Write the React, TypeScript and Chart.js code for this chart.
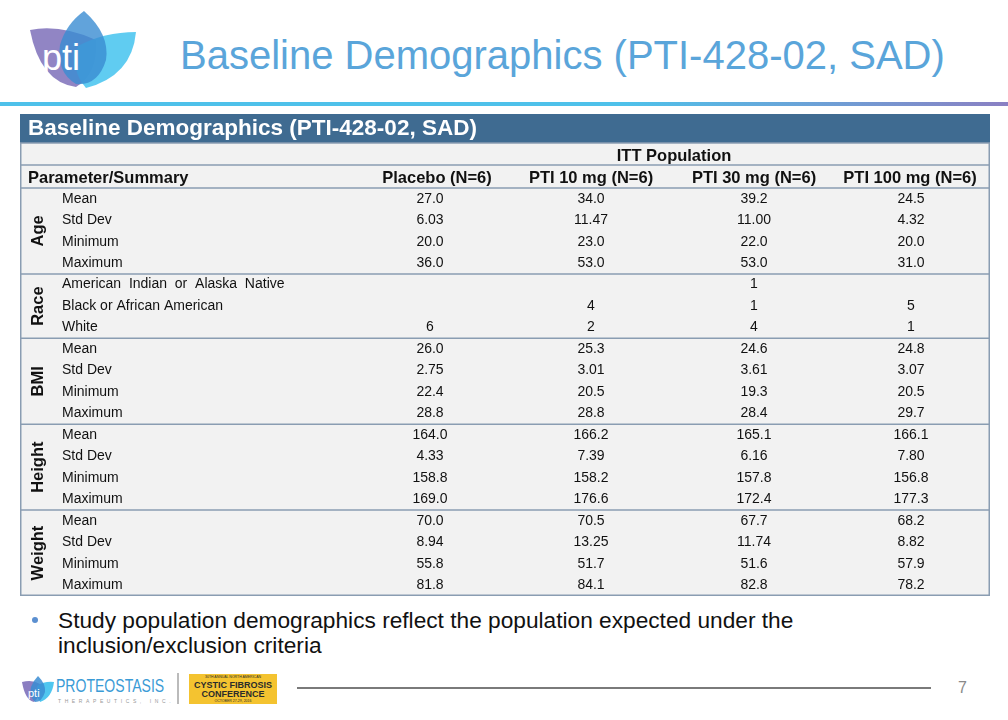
import React, { useEffect, useRef } from "react";
import { Chart, registerables } from "chart.js";

Chart.register(...registerables);

const tableTitle = "Baseline Demographics (PTI-428-02, SAD)";
const populationLabel = "ITT Population";
const paramHeader = "Parameter/Summary";
const columns = ["Placebo (N=6)", "PTI 10 mg (N=6)", "PTI 30 mg (N=6)", "PTI 100 mg (N=6)"];
const groups = ["Age", "Race", "BMI", "Height", "Weight"];
const statLabels = ["Mean", "Std Dev", "Minimum", "Maximum"];
const raceLabels = ["American  Indian  or  Alaska  Native", "Black or African American", "White"];

const ageValues = [
  ["27.0", "34.0", "39.2", "24.5"],
  ["6.03", "11.47", "11.00", "4.32"],
  ["20.0", "23.0", "22.0", "20.0"],
  ["36.0", "53.0", "53.0", "31.0"],
];
const raceValues = [
  ["", "", "1", ""],
  ["", "4", "1", "5"],
  ["6", "2", "4", "1"],
];
const bmiValues = [
  ["26.0", "25.3", "24.6", "24.8"],
  ["2.75", "3.01", "3.61", "3.07"],
  ["22.4", "20.5", "19.3", "20.5"],
  ["28.8", "28.8", "28.4", "29.7"],
];
const heightValues = [
  ["164.0", "166.2", "165.1", "166.1"],
  ["4.33", "7.39", "6.16", "7.80"],
  ["158.8", "158.2", "157.8", "156.8"],
  ["169.0", "176.6", "172.4", "177.3"],
];
const weightValues = [
  ["70.0", "70.5", "67.7", "68.2"],
  ["8.94", "13.25", "11.74", "8.82"],
  ["55.8", "51.7", "51.6", "57.9"],
  ["81.8", "84.1", "82.8", "78.2"],
];

const groupRows = [
  { name: groups[0], labels: statLabels, values: ageValues },
  { name: groups[1], labels: raceLabels, values: raceValues },
  { name: groups[2], labels: statLabels, values: bmiValues },
  { name: groups[3], labels: statLabels, values: heightValues },
  { name: groups[4], labels: statLabels, values: weightValues },
];

// layout (table units = px inside the canvas)
const TW = 970;
const TH = 482;
const HEAD_H = 29;
const ITT_B = 51;
const PARAM_B = 74;
const ROW_H = (TH - PARAM_B) / 19;
const headCenters = [417, 571, 734, 890];
const valueCenters = [410, 571, 734, 891];
const FONT = "'Liberation Sans', Arial, Helvetica, sans-serif";

const tablePlugin = {
  id: "tableDraw",
  afterDraw(chart: any) {
    const { ctx } = chart;
    const xs = chart.scales.x;
    const ys = chart.scales.y;
    const X = (v: number) => xs.getPixelForValue(v);
    const Y = (v: number) => ys.getPixelForValue(v);
    ctx.save();
    ctx.fillStyle = "#F2F2F2";
    ctx.fillRect(X(0), Y(0), X(TW) - X(0), Y(TH) - Y(0));
    ctx.fillStyle = "#3F6B91";
    ctx.fillRect(X(0), Y(0), X(TW) - X(0), Y(HEAD_H) - Y(0));

    ctx.strokeStyle = "#8A9DB2";
    ctx.lineWidth = 1.5;
    const hline = (v: number) => {
      ctx.beginPath();
      ctx.moveTo(X(0), Y(v));
      ctx.lineTo(X(TW), Y(v));
      ctx.stroke();
    };
    hline(ITT_B);
    hline(PARAM_B);
    let r = 0;
    groupRows.forEach((g, gi) => {
      r += g.labels.length;
      if (gi < groupRows.length - 1) hline(PARAM_B + r * ROW_H);
    });
    ctx.strokeRect(X(0) + 0.75, Y(HEAD_H), X(TW) - X(0) - 1.5, Y(TH) - Y(HEAD_H) - 0.75);

    ctx.textBaseline = "middle";
    ctx.fillStyle = "#FFFFFF";
    ctx.font = `bold 22.5px ${FONT}`;
    ctx.textAlign = "left";
    ctx.fillText(tableTitle, X(8), Y(15));

    ctx.fillStyle = "#111111";
    ctx.font = `bold 16.5px ${FONT}`;
    ctx.textAlign = "center";
    ctx.fillText(populationLabel, X(654), Y(42));
    ctx.textAlign = "left";
    ctx.fillText(paramHeader, X(8), Y(64.5));
    ctx.textAlign = "center";
    columns.forEach((c, i) => ctx.fillText(c, X(headCenters[i]), Y(64.5)));

    let row = 0;
    groupRows.forEach((g) => {
      const top = PARAM_B + row * ROW_H;
      const bottom = top + g.labels.length * ROW_H;
      ctx.save();
      ctx.translate(X(18), Y((top + bottom) / 2));
      ctx.rotate(-Math.PI / 2);
      ctx.font = `bold 16.5px ${FONT}`;
      ctx.textAlign = "center";
      ctx.fillStyle = "#111111";
      ctx.fillText(g.name, 0, 0);
      ctx.restore();
      g.labels.forEach((lab, li) => {
        const cy = Y(top + (li + 0.5) * ROW_H);
        ctx.font = `14px ${FONT}`;
        ctx.fillStyle = "#111111";
        ctx.textAlign = "left";
        ctx.fillText(lab, X(42), cy);
        ctx.textAlign = "center";
        g.values[li].forEach((v, ci) => {
          if (v) ctx.fillText(v, X(valueCenters[ci]), cy);
        });
      });
      row += g.labels.length;
    });
    ctx.restore();
  },
};

function TableChart() {
  const ref = useRef<HTMLCanvasElement>(null);
  useEffect(() => {
    if (!ref.current) return;
    const chart = new Chart(ref.current, {
      type: "scatter",
      data: { datasets: [] },
      options: {
        animation: false,
        responsive: false,
        maintainAspectRatio: false,
        devicePixelRatio: 1,
        layout: { padding: 0 },
        plugins: { legend: { display: false }, tooltip: { enabled: false } },
        scales: {
          x: { type: "linear", min: 0, max: TW, display: false },
          y: { type: "linear", min: 0, max: TH, reverse: true, display: false },
        },
      },
      plugins: [tablePlugin],
    } as any);
    return () => chart.destroy();
  }, []);
  return (
    <canvas
      ref={ref}
      width={TW}
      height={TH}
      style={{ position: "absolute", left: 20, top: 114, width: TW, height: TH }}
    />
  );
}

function Logo() {
  return (
    <svg width={140} height={95} style={{ position: "absolute", left: 0, top: 0 }}>
      <path d="M30,30 Q60,24 96,40 Q98,74 76,87 Q40,82 30,30 Z" fill="#8B7EC1" opacity={0.95} />
      <path d="M136,32 Q132,76 86,88 Q70,70 78,46 Q104,32 136,32 Z" fill="#4FC6EF" opacity={0.9} />
      <path d="M84,11 Q110,34 106,60 Q98,86 76,84 Q56,72 60,45 Q66,24 84,11 Z" fill="#3A8CD2" opacity={0.8} />
      <text x={42} y={70} fill="#FFFFFF" fontFamily="'Liberation Sans', Arial, sans-serif" fontSize={36}>pti</text>
    </svg>
  );
}

function Footer() {
  return (
    <>
      <svg width={36} height={30} style={{ position: "absolute", left: 20, top: 674 }}>
        <path d="M2,8 Q12,5 20,10 Q20,24 14,28 Q5,26 2,8 Z" fill="#8B7EC1" />
        <path d="M34,8 Q32,24 20,28 Q15,20 17,12 Q24,7 34,8 Z" fill="#4FC6EF" />
        <path d="M18,2 Q26,10 25,18 Q22,28 15,28 Q9,22 11,13 Q13,7 18,2 Z" fill="#3A8CD2" opacity={0.85} />
        <text x={8} y={23} fill="#fff" fontSize={11} fontFamily="Arial, sans-serif">pti</text>
      </svg>
      <div style={{ position: "absolute", left: 56, top: 676, fontFamily: FONT, fontSize: 18, color: "#3A9BD6", transform: "scaleX(0.78)", transformOrigin: "left top", whiteSpace: "nowrap" }}>
        PROTEOSTASIS
      </div>
      <div style={{ position: "absolute", left: 58, top: 698, fontFamily: FONT, fontSize: 5, color: "#999", letterSpacing: 3.6, whiteSpace: "nowrap" }}>
        THERAPEUTICS, INC.
      </div>
      <div style={{ position: "absolute", left: 177, top: 673, width: 1.5, height: 31, background: "#BBBBBB" }} />
      <div style={{ position: "absolute", left: 189, top: 674, width: 88, height: 30, background: "#F4C330", fontFamily: FONT, color: "#2B2B2B", textAlign: "center", lineHeight: 1 }}>
        <div style={{ fontSize: 3.5, marginTop: 2 }}>30TH ANNUAL NORTH AMERICAN</div>
        <div style={{ fontSize: 9, fontWeight: "bold", marginTop: 1 }}>CYSTIC FIBROSIS</div>
        <div style={{ fontSize: 9, fontWeight: "bold" }}>CONFERENCE</div>
        <div style={{ fontSize: 3.5, marginTop: 1 }}>OCTOBER 27-29, 2016</div>
      </div>
      <div style={{ position: "absolute", left: 297, top: 687, width: 634, height: 2, background: "#7A7A7A" }} />
      <div style={{ position: "absolute", left: 958, top: 679, fontFamily: FONT, fontSize: 16, color: "#8A8A8A" }}>7</div>
    </>
  );
}

export default function App() {
  return (
    <div style={{ position: "absolute", left: 0, top: 0, width: 1008, height: 720, background: "#FFFFFF", overflow: "hidden" }}>
      <Logo />
      <div style={{ position: "absolute", left: 180, top: 32, fontFamily: FONT, fontSize: 40, color: "#5AA5DA", whiteSpace: "nowrap", lineHeight: "46px" }}>
        {tableTitle}
      </div>
      <div style={{ position: "absolute", left: 0, top: 102, width: 1008, height: 4, background: "linear-gradient(to right, #4EC1EA 0%, #4EC1EA 62%, #8A80C3 100%)" }} />
      <TableChart />
      <div style={{ position: "absolute", left: 32, top: 617, width: 6, height: 6, borderRadius: 3, background: "#5B8FD0" }} />
      <div style={{ position: "absolute", left: 58, top: 608, width: 820, fontFamily: FONT, fontSize: 22.7, lineHeight: "25px", color: "#111111", whiteSpace: "nowrap" }}>
        Study population demographics reflect the population expected under the
        <br />
        inclusion/exclusion criteria
      </div>
      <Footer />
    </div>
  );
}
